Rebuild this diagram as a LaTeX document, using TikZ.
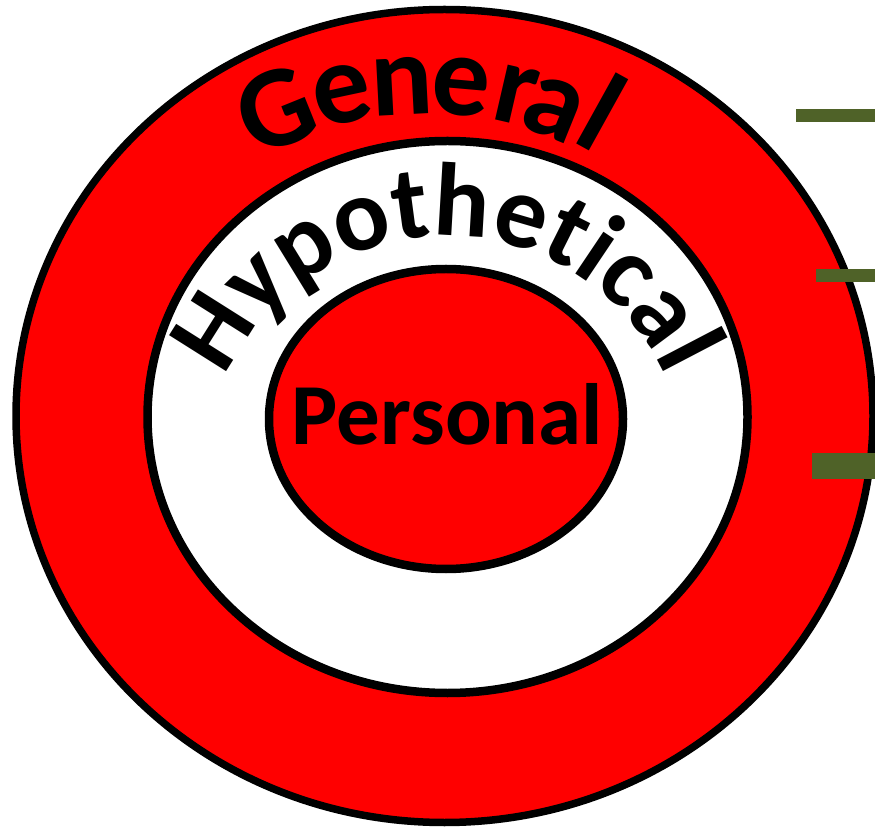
\documentclass[tikz,border=0pt]{standalone}
\usepackage{fontspec}
\setmainfont{Carlito}
\usetikzlibrary{shapes.geometric,decorations.text}
\newcommand{\genfont}{\fontsize{116}{116}\selectfont\bfseries}
\newcommand{\hypfont}{\fontsize{104}{104}\selectfont\bfseries}
\newcommand{\perfont}{\fontsize{87}{87}\selectfont\bfseries}
\definecolor{barcol}{HTML}{4F6228}
\begin{document}
\begin{tikzpicture}[x=1pt,y=1pt,
  ring/.style={ellipse, draw=black, inner sep=0pt},
  bar/.style={rectangle, fill=barcol, draw=none, inner sep=0pt, anchor=north west},
  glyph/.style={inner sep=0pt, anchor=center, font=\genfont}]
\useasboundingbox (0,0) rectangle (875,828);
\node[ring, line width=7.5pt, fill=red, minimum width=857, minimum height=813] (outer) at (444.5,412) {};
\node[ring, line width=8.5pt, fill=white, minimum width=600, minimum height=552] (middle) at (447.5,411) {};
\node[ring, line width=8.5pt, fill=red, minimum width=354, minimum height=300] (inner) at (446,409) {};
% General, letter by letter along the top arch
\node[glyph, rotate=22]  (g1) at (276,718) {G};
\node[glyph, rotate=12]  (g2) at (342,733) {e};
\node[glyph, rotate=3]   (g3) at (402,742) {n};
\node[glyph, rotate=-5]  (g4) at (461,741) {e};
\node[glyph, rotate=-13] (g5) at (516,733) {r};
\node[glyph, rotate=-22] (g6) at (554,719) {a};
\node[glyph, rotate=-29] (g7) at (603,716) {l};
% Hypothetical along an arc
\path[decorate, decoration={text along path, text align=center,
  text={|\hypfont|Hypothetical}}]
  (446,350) ++(155:242) arc[start angle=155, end angle=25, radius=242];
\node[anchor=base, inner sep=0pt, font=\perfont] (personal) at (447.5,383) {Personal};
% bars
\node[bar, minimum width=79, minimum height=13] (bar1) at (796,719) {};
\node[bar, minimum width=59, minimum height=13] (bar2) at (816,559) {};
\node[bar, minimum width=63, minimum height=26] (bar3) at (812,375) {};
\end{tikzpicture}
\end{document}
